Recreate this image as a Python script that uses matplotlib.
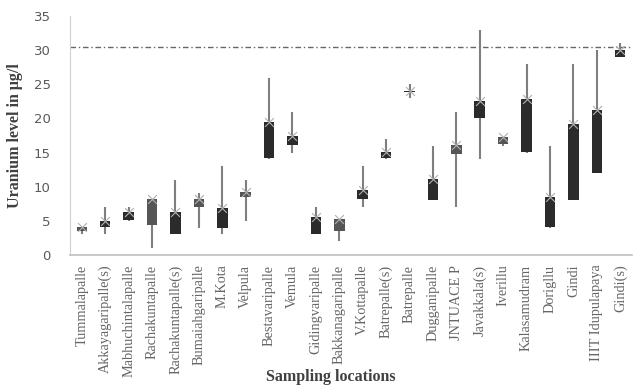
import numpy as np
import matplotlib.pyplot as plt

plt.rcParams['font.size'] = 9

locations = ["Tummalapalle", "Akkayagaripalle(s)", "Mabhuchintalapalle", "Rachakuntapalle",
             "Rachakuntapalle(s)", "Bumaiahgaripalle", "M.Kota", "Velpula", "Bestavaripalle",
             "Vemula", "Gidingvaripalle", "Bakkanagaripalle", "V.Kottapalle", "Batrepalle(s)",
             "Batrepalle", "Dugganipalle", "JNTUACE P", "Javakkala(s)", "Iverillu",
             "Kalasamudram", "Dorigllu", "Gindi", "IIIT Idupulapaya", "Gindi(s)"]
low = [3, 3, 5, 1, 3, 4, 3, 5, 14, 15, 3, 2, 7, 14, 23, 8, 7, 14, 16, 15, 4, 8, 12, 29]
box_low = [3.5, 4.1, 5.1, 4.4, 3, 7, 4, 8.5, 14.2, 16.1, 3, 3.5, 8.2, 14.2, 23.9, 8.1, 14.8, 20, 16.3, 15.1, 4.1, 8.1, 12, 29]
box_high = [4.1, 5, 6.3, 8.2, 6.3, 8.2, 6.9, 9.2, 19.5, 17.4, 5.5, 5.2, 9.5, 15.1, 24.1, 11.1, 16.1, 22.5, 17.3, 22.8, 8.5, 19.2, 21.2, 30]
high = [4, 7, 7, 8, 11, 9, 13, 11, 26, 21, 7, 5, 13, 17, 25, 16, 21, 33, 17, 28, 16, 28, 30, 31]
light_box = ["Tummalapalle", "Rachakuntapalle", "Bumaiahgaripalle", "Velpula",
             "Bakkanagaripalle", "JNTUACE P", "Iverillu"]
limit = 30.5

x = np.arange(len(locations))

fig = plt.figure(figsize=(6.37, 3.85), dpi=100)
ax = fig.add_axes([0.11, 0.338, 0.882, 0.62])

# whiskers
ax.vlines(x, low, high, color='#7f7f7f', linewidth=1.5, zorder=1)

# boxes
colors = ['#555555' if loc in light_box else '#2b2b2b' for loc in locations]
heights = np.array(box_high) - np.array(box_low)
ax.bar(x, heights, bottom=box_low, width=0.45, color=colors, zorder=2)

# markers at the box top
ax.scatter(x, box_high, marker='x', s=40, color='#b0b0b0', linewidths=0.8, zorder=3)

# limit line
ax.axhline(limit, color='#666666', linestyle=(0, (4, 2, 1, 2)), linewidth=1, zorder=0)

ax.set_xlim(-0.5, len(locations) - 0.5)
ax.set_ylim(0, 35)
ax.set_yticks(range(0, 36, 5))
ax.tick_params(axis='y', length=0, colors='#595959', labelsize=9.5, pad=14)
ax.tick_params(axis='x', length=0, pad=7)
ax.set_xticks(x)
ax.set_xticklabels(locations, rotation=90, family='Liberation Serif', fontsize=10.3, color='#666666')

for s in ['top', 'right']:
    ax.spines[s].set_visible(False)
ax.spines['left'].set_color('#d0d0d0')
ax.spines['bottom'].set_color('#c0c0c0')
ax.spines['bottom'].set_linewidth(1.2)

ax.set_ylabel("Uranium level in μg/l", family='Liberation Serif', fontweight='bold',
              fontsize=11.5, color='#404040', labelpad=8)
fig.text(0.52, 0.01, "Sampling locations", family='Liberation Serif', fontweight='bold',
         fontsize=11.5, color='#404040', ha='center')

fig.savefig("out.png", dpi=100)
